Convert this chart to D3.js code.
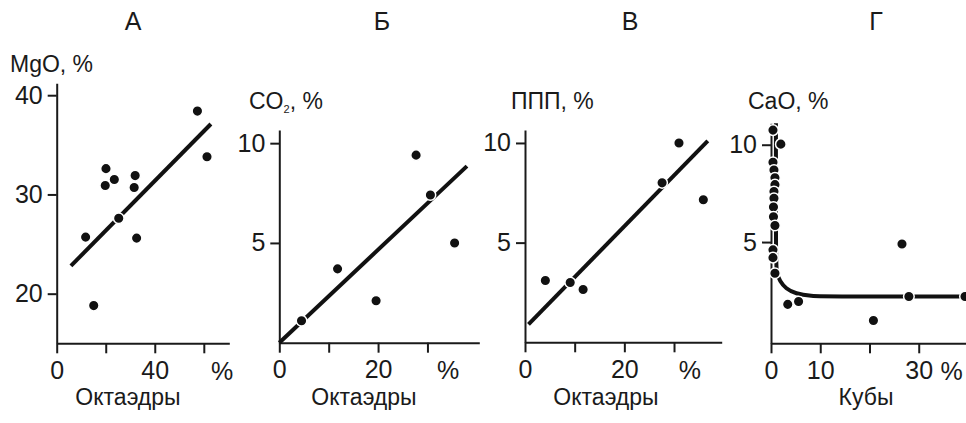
<!DOCTYPE html>
<html>
<head>
<meta charset="utf-8">
<script src="https://cdn.jsdelivr.net/npm/d3@7"></script>
<style>
  body { margin: 0; background: #fff; }
  text { font-family: "Liberation Sans", Arial, sans-serif; fill: #1a1a1a; }
  .axis path, .axis line { stroke: #1a1a1a; stroke-width: 2; }
</style>
</head>
<body>
<div id="wrapper"></div>
<script>
// panel letters
const titles = ['А', 'Б', 'В', 'Г'];

// А: MgO vs octahedra
const aX = [57.4, 61.3, 20.1, 19.8, 23.5, 32.0, 31.6, 25.3, 32.6, 11.8, 15.1];
const aY = [38.4, 33.8, 32.6, 30.9, 31.5, 31.9, 30.7, 27.6, 25.6, 25.7, 18.8];
const aLine = [[5.8, 22.8], [62.9, 37.1]];

// Б: CO2 vs octahedra
const bX = [4.5, 11.8, 19.6, 27.7, 30.6, 35.5];
const bY = [1.1, 3.7, 2.1, 9.4, 7.4, 5.0];
const bLine = [[0, 0], [38.0, 8.85]];

// В: ППП vs octahedra
const cX = [4.1, 9.1, 11.7, 27.6, 31.0, 35.9];
const cY = [3.1, 3.0, 2.65, 8.0, 10.0, 7.15];
const cLine = [[0.7, 0.9], [36.8, 10.1]];

// Г: CaO vs cubes
const dX = [2.0, 3.4, 5.6, 20.8, 26.6, 28.0, 39.4,
            0.4, 0.4, 0.6, 0.8, 0.8, 0.6, 0.6, 0.5, 0.5, 0.8, 0.4, 0.4, 0.8];
const dY = [10.03, 1.8, 1.95, 0.97, 4.9, 2.2, 2.2,
            10.75, 9.1, 8.7, 8.3, 7.95, 7.6, 7.25, 6.8, 6.3, 5.85, 4.6, 4.2, 3.4];
const dCurve = [[1.0, 11.1], [1.0, 4.2], [1.1, 3.4], [1.8, 3.0], [3.0, 2.6],
                [5.0, 2.35], [8.0, 2.22], [12, 2.2], [39.6, 2.2]];

// ticks
const aXTicks = [0, 20, 40, 60], aXLabels = [0, 40], aYTicks = [20, 30, 40];
const bXTicks = [0, 10, 20, 30], bXLabels = [0, 20], bYTicks = [5, 10];
const cXTicks = [0, 10, 20, 30], cXLabels = [0, 20], cYTicks = [5, 10];
const dXTicks = [0, 10, 20, 30], dXLabels = [0, 10, 30], dYTicks = [5, 10];

const panels = [
  { xs: aX, ys: aY, line: aLine, curve: false,
    xd: [0, 70.4], xr: [56.7, 229.3], yd: [15, 41.2], yr: [343.3, 83.3],
    xt: aXTicks, xl: aXLabels, yt: aYTicks,
    ytitle: ['MgO, %'], ytx: 10, yty: 72, xtitle: 'Октаэдры', xtx: 128, pct: 67.5, tx: 133 },
  { xs: bX, ys: bY, line: bLine, curve: false,
    xd: [0, 40.5], xr: [279.3, 479.3], yd: [0, 10.66], yr: [342.7, 130],
    xt: bXTicks, xl: bXLabels, yt: bYTicks,
    ytitle: ['CO', '2', ', %'], ytx: 249, yty: 109, xtitle: 'Октаэдры', xtx: 364, pct: 34.2, tx: 382 },
  { xs: cX, ys: cY, line: cLine, curve: false,
    xd: [0, 39.6], xr: [525, 721.7], yd: [0, 10.65], yr: [342.3, 130],
    xt: cXTicks, xl: cXLabels, yt: cYTicks,
    ytitle: ['ППП, %'], ytx: 511, yty: 109, xtitle: 'Октаэдры', xtx: 606, pct: 33.2, tx: 630 },
  { xs: dX, ys: dY, line: dCurve, curve: true,
    xd: [0, 39.6], xr: [771, 966], yd: [-0.2, 11.1], yr: [343.3, 123.3],
    xt: dXTicks, xl: dXLabels, yt: dYTicks,
    ytitle: ['CaO, %'], ytx: 748, yty: 109, xtitle: 'Кубы', xtx: 866, pct: 36.7, tx: 876 }
];

const svg = d3.select('#wrapper')
  .append('svg')
  .attr('width', 966)
  .attr('height', 423);

panels.forEach(function (p, i) {
  const x = d3.scaleLinear().domain(p.xd).range(p.xr);
  const y = d3.scaleLinear().domain(p.yd).range(p.yr);
  const g = svg.append('g');

  // letter
  g.append('text')
    .attr('x', p.tx).attr('y', 30)
    .attr('text-anchor', 'middle')
    .style('font-size', '25px')
    .text(titles[i]);

  // axes
  g.append('g')
    .attr('class', 'axis')
    .attr('transform', 'translate(0,' + p.yr[0] + ')')
    .call(d3.axisBottom(x).tickValues(p.xt).tickSize(10).tickSizeOuter(0).tickPadding(8)
      .tickFormat(function (d) { return p.xl.indexOf(d) >= 0 ? d : ''; }));

  g.append('g')
    .attr('class', 'axis')
    .attr('transform', 'translate(' + p.xr[0] + ',0)')
    .call(d3.axisLeft(y).tickValues(p.yt).tickSize(9).tickSizeOuter(0).tickPadding(5));

  g.selectAll('.axis text')
    .style('font-size', '25px')
    .style('font-family', '"Liberation Sans", Arial, sans-serif')
    .attr('fill', '#1a1a1a');

  // percent sign at end of x axis
  g.append('text')
    .attr('x', x(p.pct)).attr('y', p.yr[0] + 36.5)
    .attr('text-anchor', 'middle')
    .style('font-size', '25px')
    .text('%');

  // y title
  const yt = g.append('text')
    .attr('x', p.ytx).attr('y', p.yty)
    .style('font-size', '23px');
  if (p.ytitle.length === 3) {
    yt.append('tspan').text(p.ytitle[0]);
    yt.append('tspan').attr('dy', 4).style('font-size', '11px').text(p.ytitle[1]);
    yt.append('tspan').attr('dy', -4).text(p.ytitle[2]);
  } else {
    yt.text(p.ytitle[0]);
  }

  // x title
  g.append('text')
    .attr('x', p.xtx).attr('y', 405)
    .attr('text-anchor', 'middle')
    .style('font-size', '23px')
    .text(p.xtitle);

  // trend line / curve
  const lineGen = d3.line()
    .x(function (d) { return x(d[0]); })
    .y(function (d) { return y(d[1]); });
  if (p.curve) lineGen.curve(d3.curveBasis);
  g.append('path')
    .datum(p.line)
    .attr('d', lineGen)
    .attr('fill', 'none')
    .attr('stroke', '#111')
    .attr('stroke-width', 4);

  // points
  g.selectAll('circle')
    .data(d3.range(p.xs.length))
    .enter()
    .append('circle')
    .attr('cx', function (j) { return x(p.xs[j]); })
    .attr('cy', function (j) { return y(p.ys[j]); })
    .attr('r', 5.3)
    .attr('fill', '#111')
    .attr('stroke', '#fff')
    .attr('stroke-width', 1.5);
});
</script>
</body>
</html>
